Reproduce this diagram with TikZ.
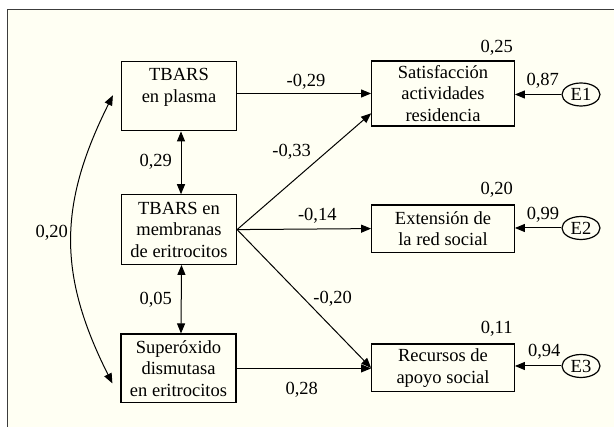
\documentclass[tikz,border=0pt]{standalone}
\usepackage{fontspec}
\setmainfont{Liberation Serif}
\usetikzlibrary{arrows.meta,calc,shapes.geometric}
\definecolor{cream}{RGB}{255,255,243}
\definecolor{framegray}{RGB}{60,60,60}
\begin{document}
\begin{tikzpicture}[x=1pt,y=-1pt,
  every node/.style={font=\fontsize{18.5}{21.5}\selectfont},
  varbox/.style={draw,line width=1.2pt,align=center,inner sep=0pt},
  lbox/.style={varbox,minimum width=115pt,minimum height=69pt},
  rbox/.style={varbox,minimum width=142.6pt},
  err/.style={draw,line width=1.2pt,ellipse,minimum width=38pt,minimum height=23pt,inner sep=0pt},
  path1/.style={line width=1pt,-{Triangle[length=10pt,width=8pt]}},
  path2/.style={line width=1pt,{Triangle[length=10pt,width=8pt]}-{Triangle[length=10pt,width=8pt]}},
  lab/.style={inner sep=0pt}]
\useasboundingbox (0,0) rectangle (614,427);
\fill[white] (0,0) rectangle (614,427);
\fill[cream] (7.7,9.3) rectangle (614,427);
\draw[framegray,line width=1.5pt] (7.7,427) -- (7.7,9.3) -- (614,9.3);

\node[lbox] (P) at (179,96.3) {TBARS\\en plasma\\ };
\node[lbox,minimum height=69.5pt] (M) at (179,229.6) {TBARS en\\membranas\\de eritrocitos};
\node[lbox,minimum height=68.7pt] (S) at (178.5,368.4) {Superóxido\\dismutasa\\en eritrocitos};

\node[rbox,minimum height=65pt] (Sat) at (443,93.5) {Satisfacción\\actividades\\residencia};
\node[rbox,minimum height=47.3pt] (Ext) at (443,228.6) {Extensión de\\la red social};
\node[rbox,minimum height=47.7pt] (Rec) at (443,367.9) {Recursos de\\apoyo social};

\node[err] (E1) at (581,94.5) {E1};
\node[err] (E2) at (581,228) {E2};
\node[err] (E3) at (581,366) {E3};

\draw[path1] (P.east |- Sat.west) -- (Sat.west);
\draw[path1] (M.east) -- ($(Sat.south west)!0.2!(Sat.north west)$);
\draw[path1] (M.east) -- (Ext.west);
\draw[path1] (M.east) -- (Rec.west);
\draw[path1] (S.east) -- (S.east -| Rec.west);

\draw[path1] (E1.west) -- (Sat.east |- E1.west);
\draw[path1] (E2.west) -- (Ext.east |- E2.west);
\draw[path1] (E3.west) -- (Rec.east |- E3.west);

\draw[path2] ([xshift=2pt]P.south) -- ([xshift=2pt]M.north);
\draw[path2] ([xshift=2.5pt]M.south) -- ([xshift=2.5pt]S.north);

\coordinate (cT) at ($(P.west)+(-8,-1)$);
\coordinate (cB) at ($(S.west)+(-8,15)$);
\draw[path2] (cB) .. controls (58,275) and (58,205) .. (cT);

\node[lab] (l1) at (306,81.7) {-0,29};
\node[lab] (l2) at (291.7,151.7) {-0,33};
\node[lab] (l3) at (317.3,216) {-0,14};
\node[lab] (l4) at (332.7,298.3) {-0,20};
\node[lab] (l5) at (301.7,389.3) {0,28};
\node[lab] (l6) at (155.7,161.7) {0,29};
\node[lab] (l7) at (155.7,300) {0,05};
\node[lab] (l8) at (51.7,232.7) {0,20};
\node[lab] (r1) at (496.7,48) {0,25};
\node[lab] (r2) at (496.7,190) {0,20};
\node[lab] (r3) at (496.7,329) {0,11};
\node[lab] (e1) at (542.7,80.7) {0,87};
\node[lab] (e2) at (543,215) {0,99};
\node[lab] (e3) at (544.3,351.7) {0,94};
\end{tikzpicture}
\end{document}
